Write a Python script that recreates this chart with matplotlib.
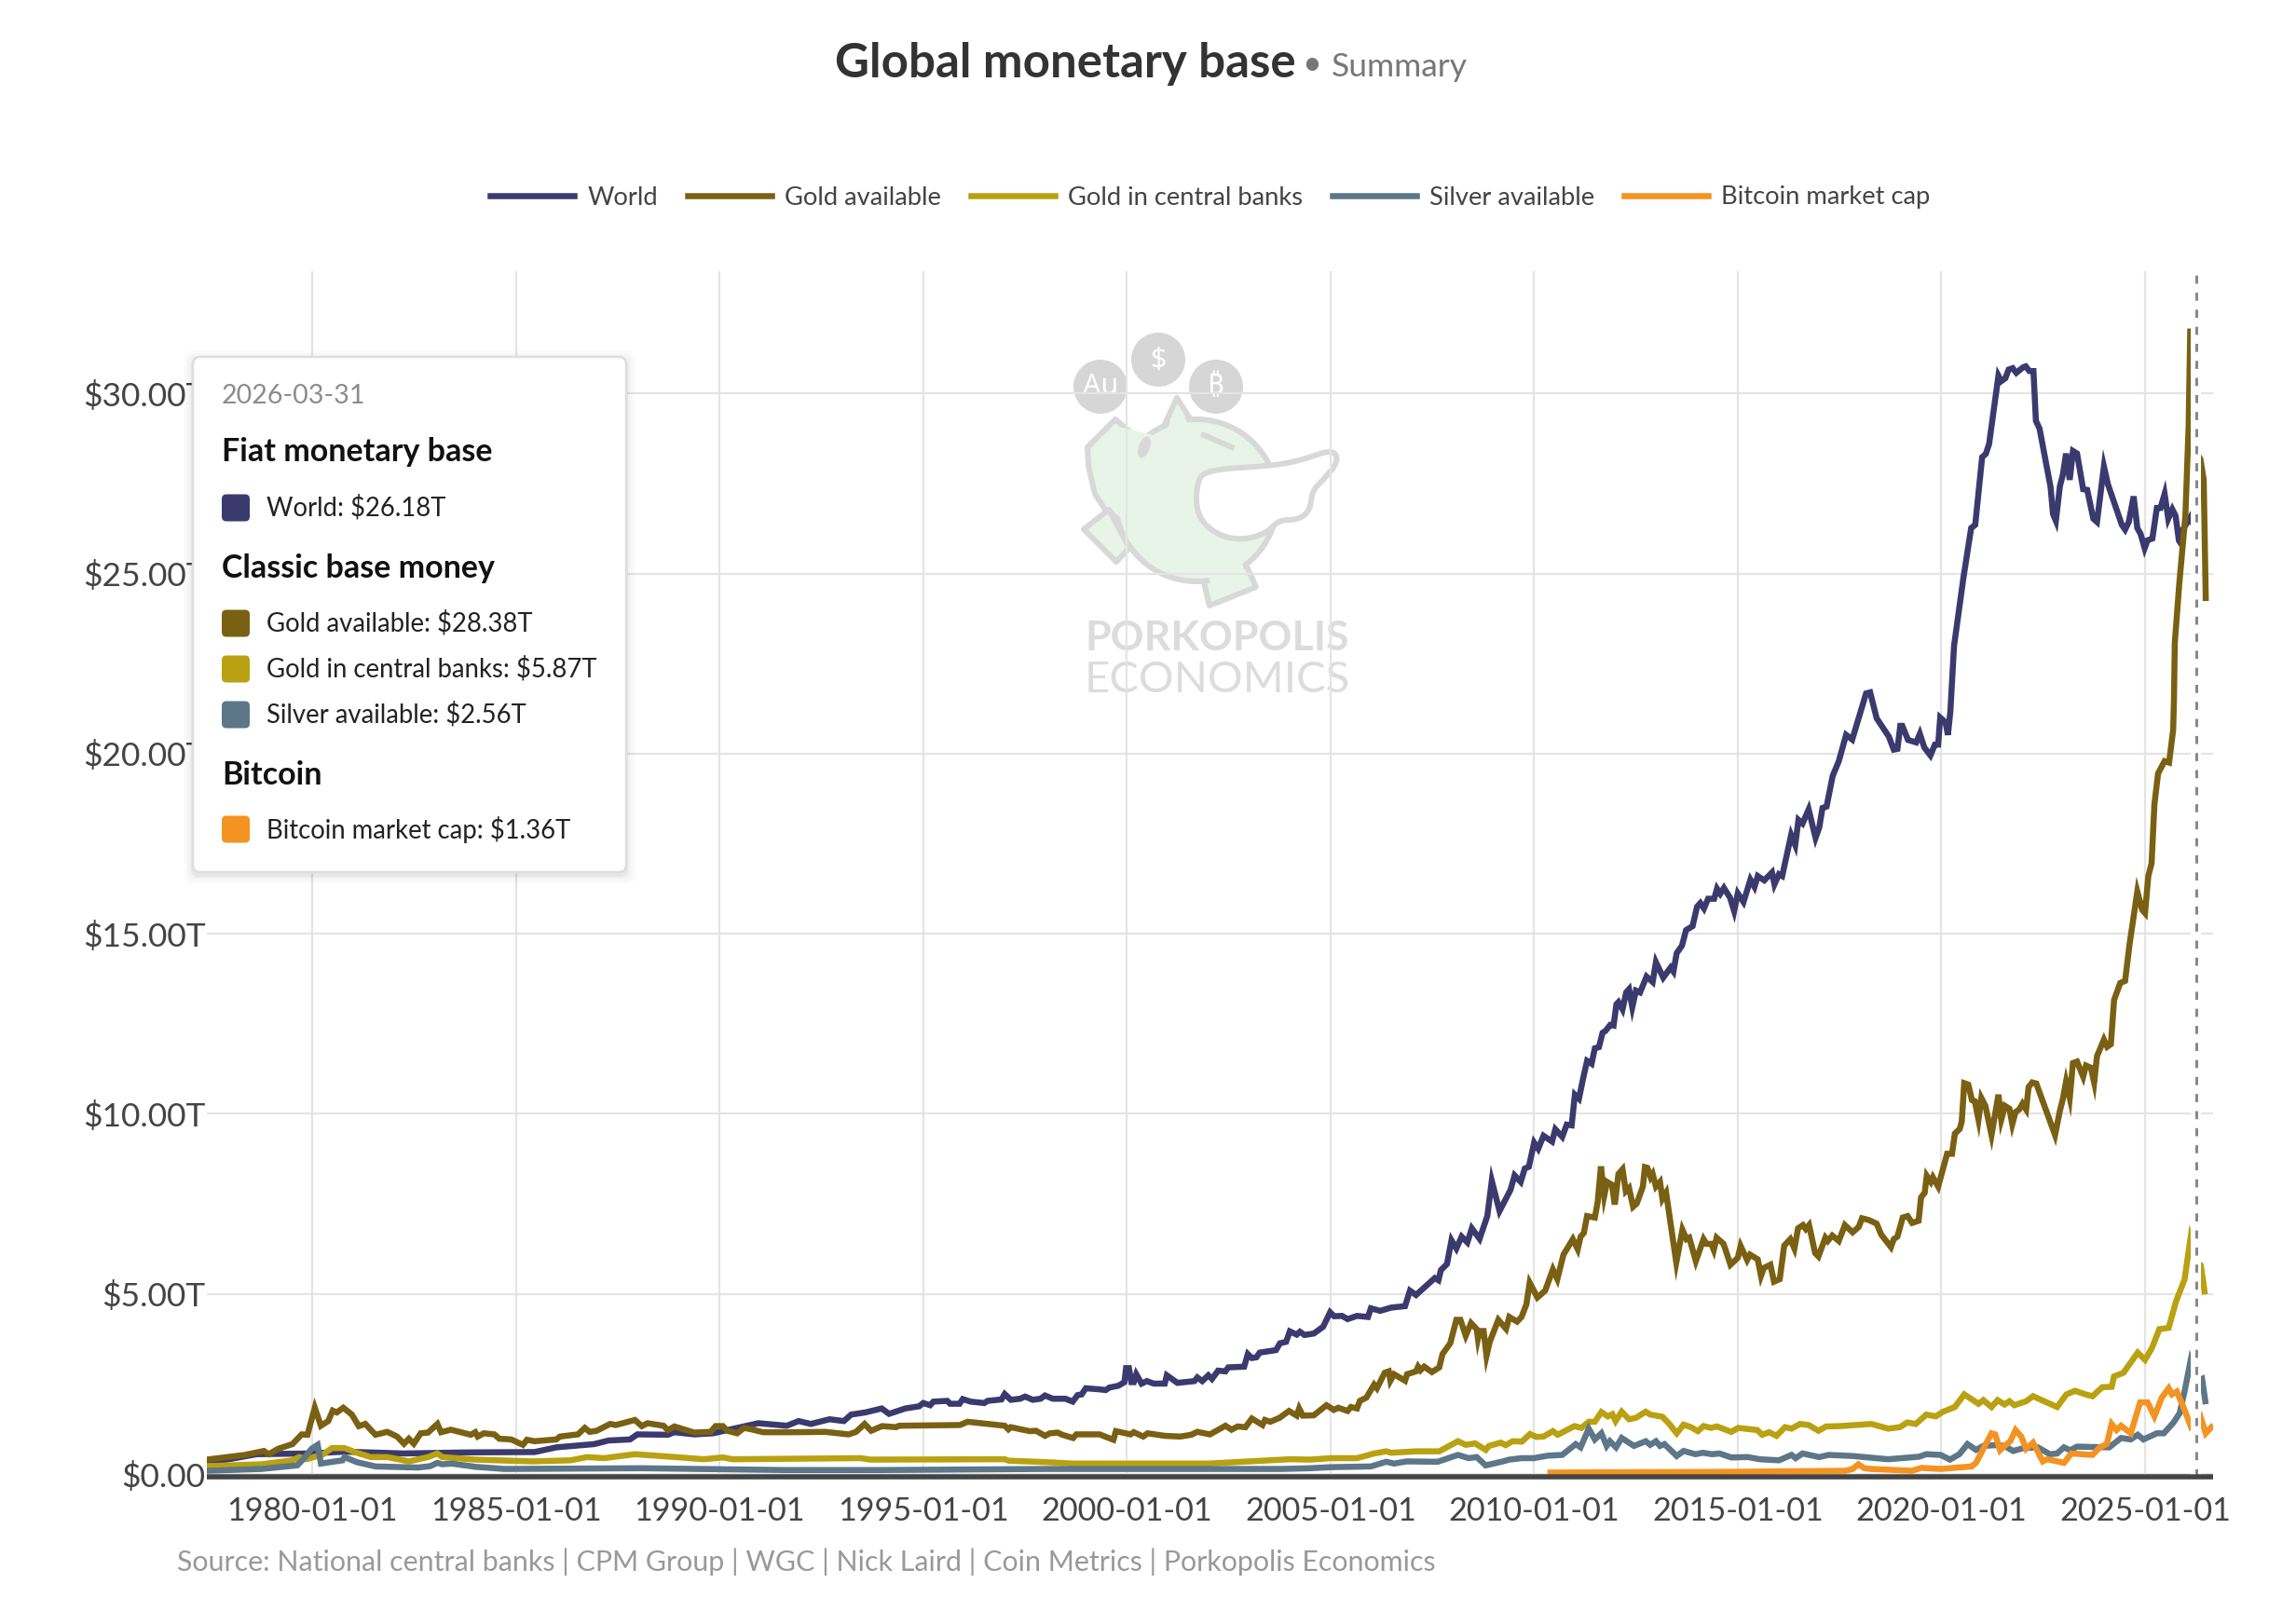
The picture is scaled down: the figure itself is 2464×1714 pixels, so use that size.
import matplotlib
matplotlib.use("Agg")
import matplotlib.pyplot as plt
from matplotlib.path import Path
from matplotlib.patches import Circle, Ellipse, FancyBboxPatch, PathPatch, Polygon

plt.rcParams['font.family'] = ['Lato', 'DejaVu Sans']

W, H = 2464, 1714

# values in trillions of dollars, x as decimal years
world_x = [1977.41, 1978.0, 1978.63, 1979.92, 1980.8, 1982.25, 1983.8, 1985.46, 1985.99, 1986.92, 1987.27, 1987.8, 1987.98, 1988.73, 1988.89, 1989.38, 1989.84, 1990.19, 1990.95, 1991.65, 1991.94, 1992.24, 1992.7, 1993.05, 1993.23, 1993.58, 1993.98, 1994.16,
           1994.56, 1994.9, 1995.0, 1995.17, 1995.25, 1995.59, 1995.66, 1995.89, 1995.97, 1996.16, 1996.5, 1996.58, 1996.92, 1997.0, 1997.15, 1997.38, 1997.5, 1997.69, 1997.88, 1997.99, 1998.18, 1998.49, 1998.67, 1998.79, 1998.89, 1998.99, 1999.33, 1999.48, 1999.57, 1999.79, 1999.94, 1999.98, 2000.05, 2000.11, 2000.17, 2000.23, 2000.36, 2000.49, 2000.66, 2000.93, 2000.98, 2001.24, 2001.66, 2001.73, 2001.85, 2002.0, 2002.09, 2002.24, 2002.42, 2002.49, 2002.88, 2002.97, 2003.07, 2003.18, 2003.26, 2003.66, 2003.76, 2003.91, 2004.0, 2004.17, 2004.25, 2004.36, 2004.59, 2004.82, 2004.99, 2005.09, 2005.28,
           2005.42, 2005.65, 2005.92, 2005.99, 2006.22, 2006.49, 2006.83, 2006.95, 2007.1, 2007.56, 2007.65, 2007.71, 2007.86, 2007.97, 2008.09, 2008.22, 2008.36, 2008.47, 2008.66, 2008.85, 2008.96,
           2009.15, 2009.42, 2009.52, 2009.67, 2009.77, 2009.87, 2010.0, 2010.1, 2010.23, 2010.44, 2010.52, 2010.69, 2010.8, 2010.92, 2011.0, 2011.1, 2011.2, 2011.3, 2011.41, 2011.49, 2011.59, 2011.68, 2011.75, 2011.87, 2011.95, 2012.02, 2012.07, 2012.17, 2012.26, 2012.33, 2012.41, 2012.5, 2012.6, 2012.76, 2012.91, 2012.99, 2013.17, 2013.35, 2013.42, 2013.5, 2013.63, 2013.73, 2013.89, 2014.0, 2014.08, 2014.17, 2014.27, 2014.42, 2014.49, 2014.57, 2014.66, 2014.81, 2014.91, 2015.0, 2015.14, 2015.31, 2015.41, 2015.49, 2015.65, 2015.84, 2015.9, 2016.01, 2016.09, 2016.31, 2016.41, 2016.49, 2016.59, 2016.74, 2016.91, 2017.0, 2017.08, 2017.18, 2017.33, 2017.48, 2017.66, 2017.81, 2018.15, 2018.25, 2018.41, 2018.71, 2018.83, 2018.92, 2018.99, 2019.04, 2019.18, 2019.38, 2019.47, 2019.58, 2019.73, 2019.84, 2019.92, 2019.97, 2020.1, 2020.16, 2020.22,
           2020.31, 2020.54, 2020.73, 2020.83, 2021.0, 2021.09, 2021.17, 2021.4, 2021.47, 2021.57, 2021.65, 2021.75, 2021.84, 2022.0, 2022.07, 2022.16, 2022.26, 2022.32, 2022.41, 2022.68, 2022.74, 2022.81, 2022.91, 2022.98, 2023.06, 2023.15, 2023.23, 2023.33, 2023.48, 2023.58, 2023.73, 2023.82, 2023.99, 2024.09, 2024.43, 2024.51, 2024.6, 2024.72, 2024.81, 2024.89, 2024.99, 2025.06, 2025.18, 2025.29, 2025.38, 2025.48, 2025.57, 2025.67, 2025.75, 2025.83, 2025.87, 2025.92, 2026.11, 2026.25]
world_y = [0.32, 0.42, 0.55, 0.57, 0.62, 0.57, 0.6, 0.61, 0.74, 0.83, 0.93, 0.96, 1.1, 1.09, 1.16, 1.1, 1.13, 1.22, 1.41, 1.34, 1.47, 1.39, 1.52, 1.47, 1.65, 1.71, 1.82, 1.67,
           1.82, 1.88, 1.97, 1.91, 2.01, 2.03, 1.95, 1.95, 2.08, 2.01, 1.97, 2.03, 2.07, 2.22, 2.06, 2.09, 2.15, 2.06, 2.09, 2.18, 2.09, 2.09, 2.01, 2.19, 2.21, 2.38, 2.35, 2.33, 2.4, 2.45, 2.55, 2.94, 2.94, 2.55, 2.55, 2.77, 2.51, 2.58, 2.51, 2.51, 2.74, 2.53, 2.58, 2.68, 2.58, 2.74, 2.64, 2.87, 2.85, 2.96, 2.98, 3.33, 3.22, 3.24, 3.37, 3.44, 3.63, 3.67, 3.96, 3.87, 3.95, 3.86, 3.9, 4.09, 4.49, 4.38, 4.39,
           4.3, 4.39, 4.36, 4.6, 4.53, 4.62, 4.66, 5.09, 4.97, 5.44, 5.38, 5.66, 5.83, 6.49, 6.26, 6.59, 6.43, 6.82, 6.53, 7.16, 8.14,
           7.3, 7.89, 8.29, 8.11, 8.48, 8.53, 9.2, 9.03, 9.39, 9.23, 9.57, 9.36, 9.7, 9.68, 10.53, 10.42, 10.97, 11.47, 11.39, 11.82, 11.85, 12.25, 12.3, 12.47, 12.45, 13.04, 13.1, 12.9, 13.37, 13.46, 12.96, 13.42, 13.37, 13.81, 13.66, 14.21, 13.78, 14.06, 13.95, 14.46, 14.67, 15.1, 15.21, 15.75, 15.85, 15.7, 15.97, 15.97, 16.25, 16.11, 16.27, 16.0, 15.63, 16.12, 15.88, 16.5, 16.3, 16.6, 16.48, 16.7, 16.37, 16.65, 16.6, 17.74, 17.46, 18.16, 18.06, 18.45, 17.66, 17.95, 18.49, 18.53, 19.38, 19.79, 20.52, 20.39, 21.67, 21.7, 20.98, 20.47, 20.11, 20.13, 20.77, 20.77, 20.38, 20.31, 20.55, 20.17, 19.95, 20.25, 20.25, 21.0, 20.87, 20.52, 21.18,
           22.99, 24.88, 26.26, 26.35, 28.23, 28.32, 28.59, 30.49, 30.34, 30.42, 30.66, 30.7, 30.57, 30.72, 30.75, 30.62, 30.62, 29.24, 29.02, 27.4, 26.65, 26.46, 27.43, 27.73, 28.33, 27.6, 28.4, 28.33, 27.34, 27.32, 26.52, 26.43, 27.97, 27.47, 26.35, 26.22, 26.43, 27.14, 26.26, 26.1, 25.7, 25.92, 25.97, 26.82, 26.82, 27.21, 26.52, 26.78, 26.6, 25.92, 25.85, 26.2, 26.56, 26.18]

gold_x = [1977.41, 1978.34, 1978.81, 1978.93, 1979.16, 1979.51, 1979.74, 1979.88, 1980.06, 1980.21, 1980.39, 1980.5, 1980.6, 1980.76, 1980.97, 1981.14, 1981.3, 1981.55, 1981.84, 1982.08, 1982.25, 1982.37, 1982.49, 1982.66, 1982.84, 1983.07, 1983.16, 1983.4, 1983.89, 1984.0, 1984.06, 1984.21, 1984.47, 1984.59, 1984.88, 1985.17, 1985.27, 1985.46, 1985.99, 1986.08, 1986.52, 1986.69, 1986.81, 1986.98, 1987.31, 1987.45, 1987.92, 1988.09, 1988.23, 1988.62, 1988.73, 1988.89, 1989.38, 1989.78, 1989.9, 1990.08, 1990.19, 1990.43, 1990.6, 1990.78, 1991.07, 1991.83, 1992.59, 1993.17, 1993.35, 1993.56, 1993.72, 1993.99,
          1994.33, 1994.41, 1995.9, 1996.09, 1997.0, 1997.09, 1997.15, 1997.61, 1997.77, 1997.99, 1998.11, 1998.3, 1998.41, 1998.68, 1998.76, 1999.33, 1999.67, 1999.73, 2000.09, 2000.17, 2000.4, 2000.51, 2000.93, 2001.31, 2001.58, 2001.73, 2002.04, 2002.42, 2002.57, 2002.72, 2002.91, 2003.07, 2003.33, 2003.39, 2003.52, 2003.75, 2003.98, 2004.17, 2004.23, 2004.32, 2004.59, 2004.9,
          2005.08, 2005.19, 2005.42, 2005.5, 2005.65, 2005.72, 2005.88, 2006.07, 2006.14, 2006.33, 2006.43, 2006.47, 2006.56, 2006.83, 2006.88, 2007.1, 2007.15, 2007.21, 2007.3, 2007.49, 2007.67, 2007.75, 2007.94, 2008.09, 2008.19, 2008.32, 2008.45, 2008.59, 2008.62, 2008.66, 2008.76, 2008.83, 2008.91,
          2009.12, 2009.31, 2009.39, 2009.58, 2009.69, 2009.81, 2009.89, 2010.08, 2010.27, 2010.46, 2010.57, 2010.72, 2010.95, 2011.07, 2011.14, 2011.22, 2011.3, 2011.49, 2011.56, 2011.64, 2011.72, 2011.79, 2011.91, 2011.98, 2012.07, 2012.17, 2012.25, 2012.33, 2012.43, 2012.52, 2012.67, 2012.72, 2012.78, 2012.86, 2012.91, 2012.99, 2013.09, 2013.15, 2013.24, 2013.49, 2013.64, 2013.74, 2013.81, 2013.97, 2014.16, 2014.23, 2014.35, 2014.41, 2014.48, 2014.65, 2014.82, 2015.0, 2015.07, 2015.23, 2015.3, 2015.49, 2015.57, 2015.64, 2015.8, 2015.89, 2016.03, 2016.14, 2016.29, 2016.39, 2016.48, 2016.6, 2016.67, 2016.75, 2016.9, 2016.98, 2017.15, 2017.21, 2017.32, 2017.48, 2017.63, 2017.82, 2017.97, 2018.05,
          2018.22, 2018.41, 2018.52, 2018.76, 2018.83, 2018.92, 2019.05, 2019.17, 2019.28, 2019.44, 2019.5, 2019.59, 2019.64, 2019.74, 2019.79, 2019.92, 2020.14, 2020.26, 2020.33, 2020.45, 2020.5, 2020.56, 2020.66, 2020.75, 2020.82, 2020.91, 2020.98, 2021.08, 2021.23, 2021.4, 2021.47, 2021.56, 2021.67, 2021.74, 2021.82, 2021.91, 2021.99, 2022.08, 2022.14, 2022.23, 2022.33, 2022.79, 2022.91, 2022.98, 2023.06, 2023.15, 2023.23, 2023.33, 2023.48, 2023.55, 2023.67, 2023.75, 2023.82, 2023.99, 2024.07, 2024.16, 2024.24, 2024.39, 2024.51, 2024.62, 2024.81, 2024.93, 2025.0, 2025.08, 2025.16, 2025.23, 2025.32, 2025.48, 2025.59, 2025.69, 2025.71, 2025.73, 2025.84, 2025.99, 2026.07, 2026.11, 2026.25, 2026.36, 2026.44, 2026.49]
gold_y = [0.40, 0.53, 0.64, 0.55, 0.70, 0.83, 1.10, 1.09, 1.84, 1.34, 1.47, 1.76, 1.71, 1.84, 1.65, 1.33, 1.39, 1.09, 1.17, 1.04, 0.84, 0.98, 0.84, 1.13, 1.15, 1.39, 1.16, 1.23, 1.09, 1.16, 1.04, 1.13, 1.10, 0.98, 0.96, 0.81, 0.95, 0.91, 0.96, 1.04, 1.10, 1.28, 1.17, 1.2, 1.39, 1.36, 1.5, 1.33, 1.41, 1.34, 1.22, 1.32, 1.15, 1.17, 1.33, 1.33, 1.2, 1.13, 1.28, 1.24, 1.16, 1.16, 1.17, 1.1, 1.17, 1.39, 1.2, 1.33,
          1.3, 1.34, 1.36, 1.45, 1.34, 1.24, 1.3, 1.19, 1.2, 1.06, 1.13, 1.15, 1.09, 1.0, 1.1, 1.1, 0.95, 1.19, 1.1, 1.16, 1.04, 1.13, 1.06, 1.04, 1.09, 1.17, 1.1, 1.34, 1.23, 1.32, 1.3, 1.54, 1.36, 1.5, 1.45, 1.56, 1.75, 1.62, 1.82, 1.62, 1.63, 1.91,
          1.78, 1.84, 1.75, 1.86, 1.82, 2.03, 2.12, 2.48, 2.38, 2.81, 2.85, 2.59, 2.77, 2.59, 2.77, 2.85, 2.98, 2.88, 2.98, 2.83, 2.96, 3.33, 3.63, 4.28, 4.28, 3.84, 4.19, 4.02, 3.76, 3.97, 3.97, 3.28, 3.67,
          4.28, 4.03, 4.36, 4.23, 4.36, 4.71, 5.31, 4.9, 5.09, 5.68, 5.41, 6.09, 6.52, 6.24, 6.59, 6.69, 7.16, 7.12, 7.55, 8.54, 7.72, 8.11, 8.03, 7.48, 8.33, 8.46, 7.85, 7.94, 7.42, 7.51, 7.98, 8.52, 8.5, 8.24, 8.33, 7.98, 8.11, 7.64, 7.81, 5.87, 6.78, 6.52, 6.56, 5.91, 6.52, 6.39, 6.39, 6.22, 6.56, 6.39, 5.81, 6.0, 6.33, 5.94, 6.09, 5.96, 5.5, 5.72, 5.81, 5.34, 5.41, 6.34, 6.52, 6.26, 6.82, 6.91, 6.8, 6.91, 6.13, 6.04, 6.56, 6.47, 6.62, 6.47, 6.91, 6.71, 6.86, 7.1,
          7.05, 6.95, 6.65, 6.3, 6.52, 6.59, 7.12, 7.16, 6.97, 7.03, 7.68, 7.81, 8.28, 8.11, 8.24, 7.98, 8.89, 8.89, 9.45, 9.58, 9.79, 10.85, 10.81, 10.38, 10.35, 9.84, 10.44, 10.22, 9.41, 10.53, 9.84, 10.22, 10.14, 9.71, 10.05, 10.12, 10.28, 10.12, 10.74, 10.87, 10.84, 9.41, 10.09, 10.4, 10.89, 10.44, 11.41, 11.45, 11.03, 11.34, 11.28, 10.87, 11.6, 12.06, 11.86, 11.93, 13.16, 13.63, 13.69, 14.71, 16.17, 15.66, 15.57, 16.6, 16.95, 18.59, 19.45, 19.79, 19.75, 20.66, 21.5, 23.07, 24.71, 26.6, 29.1, 31.8, 28.38, 28.17, 27.6, 24.32]

cb_gold_x = [1977.41, 1978.75, 1979.51, 1979.68, 1979.86, 1980.27, 1980.48, 1980.79, 1981.09, 1981.44, 1981.84, 1982.37, 1982.84, 1983.07, 1983.19, 1984.0, 1985.41, 1986.34, 1986.75, 1987.16, 1987.92, 1988.79, 1989.61, 1990.08, 1990.31, 1993.46, 1993.7, 1997.0, 1997.1, 1998.0, 1998.7, 2002.0, 2003.0, 2004.0, 2004.5, 2005.0, 2005.65, 2006.07, 2006.37, 2006.49, 2007.1, 2007.67, 2008.13, 2008.32, 2008.55, 2008.81, 2008.89,
             2009.18, 2009.3, 2009.47, 2009.7, 2009.9, 2010.05, 2010.23, 2010.46, 2010.58, 2010.99, 2011.16, 2011.34, 2011.49, 2011.65, 2011.81, 2011.92, 2012.0, 2012.15, 2012.33, 2012.5, 2012.74, 2012.85, 2013.15, 2013.32, 2013.5, 2013.67, 2013.85, 2014.02, 2014.16, 2014.34, 2014.49, 2014.84, 2015.01, 2015.48, 2015.6, 2015.77, 2015.95, 2016.16, 2016.32, 2016.53, 2016.74, 2016.98, 2017.17, 2017.52, 2018.28, 2018.69, 2018.98, 2019.16, 2019.37, 2019.63, 2019.86, 2020.04, 2020.33, 2020.56, 2020.74, 2020.91, 2021.03, 2021.23, 2021.38, 2021.55, 2021.67, 2021.79, 2022.08, 2022.25, 2022.84, 2023.07, 2023.28, 2023.54, 2023.71, 2023.95, 2024.18, 2024.24, 2024.47, 2024.82, 2025.0, 2025.17, 2025.35, 2025.58, 2025.76, 2025.97, 2026.11, 2026.25, 2026.37, 2026.46]
cb_gold_y = [0.22, 0.27, 0.38, 0.47, 0.41, 0.55, 0.72, 0.72, 0.59, 0.47, 0.47, 0.35, 0.47, 0.57, 0.47, 0.40, 0.35, 0.38, 0.47, 0.44, 0.55, 0.48, 0.41, 0.46, 0.41, 0.44, 0.40, 0.41, 0.37, 0.33, 0.29, 0.29, 0.35, 0.41, 0.40, 0.44, 0.44, 0.57, 0.63, 0.59, 0.63, 0.63, 0.91, 0.81, 0.85, 0.67, 0.78,
             0.87, 0.80, 0.91, 0.90, 1.11, 1.03, 1.04, 1.19, 1.09, 1.33, 1.28, 1.45, 1.45, 1.72, 1.60, 1.66, 1.47, 1.73, 1.52, 1.56, 1.73, 1.65, 1.59, 1.39, 1.13, 1.37, 1.30, 1.19, 1.33, 1.28, 1.32, 1.17, 1.28, 1.22, 1.09, 1.16, 1.06, 1.30, 1.26, 1.39, 1.36, 1.20, 1.32, 1.33, 1.39, 1.26, 1.30, 1.43, 1.39, 1.65, 1.60, 1.73, 1.86, 2.21, 2.08, 1.95, 2.05, 1.86, 2.05, 1.93, 2.02, 1.91, 2.02, 2.16, 1.86, 2.21, 2.31, 2.21, 2.16, 2.41, 2.42, 2.71, 2.81, 3.37, 3.17, 3.5, 4.02, 4.06, 4.79, 5.4, 6.5, 5.87, 5.79, 5.07]

silver_x = [1977.41, 1978.75, 1979.63, 1979.8, 1979.98, 1980.13, 1980.21, 1980.74, 1980.79, 1981.09, 1981.55, 1982.6, 1982.9, 1983.07, 1983.19, 1983.42, 1984.0, 1984.71, 1988.09, 1991.59, 1994.0, 1998.0, 2003.8, 2004.5, 2005.0, 2005.99, 2006.37, 2006.56, 2006.87, 2007.63, 2008.13, 2008.39, 2008.59, 2008.81, 2009.23, 2009.39, 2009.69, 2009.99,
            2010.34, 2010.69, 2011.02, 2011.14, 2011.34, 2011.49, 2011.65, 2011.78, 2011.86, 2012.01, 2012.15, 2012.45, 2012.74, 2012.85, 2012.99, 2013.09, 2013.2, 2013.5, 2013.67, 2013.96, 2014.14, 2014.37, 2014.55, 2014.84, 2015.25, 2015.54, 2016.01, 2016.32, 2016.42, 2016.59, 2017.0, 2017.23, 2017.82, 2018.69, 2019.45, 2019.63, 2019.98, 2020.21, 2020.44, 2020.64, 2020.85, 2021.03, 2021.32, 2021.55, 2021.76, 2022.02, 2022.37, 2022.66, 2022.84, 2023.01, 2023.16, 2023.33, 2024.12, 2024.41, 2024.65, 2024.82, 2024.96, 2025.29, 2025.46, 2025.7, 2025.85, 2025.97, 2026.11, 2026.25, 2026.4, 2026.48]
silver_y = [0.09, 0.14, 0.24, 0.44, 0.70, 0.81, 0.29, 0.38, 0.47, 0.33, 0.21, 0.18, 0.22, 0.31, 0.27, 0.29, 0.20, 0.14, 0.16, 0.11, 0.11, 0.14, 0.14, 0.16, 0.19, 0.21, 0.34, 0.29, 0.35, 0.34, 0.53, 0.44, 0.47, 0.24, 0.35, 0.40, 0.44, 0.44,
            0.51, 0.53, 0.83, 0.74, 1.26, 0.96, 1.13, 0.78, 0.91, 0.74, 1.0, 0.78, 0.91, 0.81, 0.91, 0.78, 0.83, 0.50, 0.64, 0.55, 0.59, 0.55, 0.57, 0.46, 0.47, 0.41, 0.38, 0.53, 0.44, 0.57, 0.47, 0.53, 0.50, 0.41, 0.48, 0.55, 0.53, 0.40, 0.55, 0.83, 0.67, 0.78, 0.80, 0.78, 0.64, 0.72, 0.74, 0.55, 0.57, 0.74, 0.66, 0.76, 0.74, 1.0, 0.96, 1.09, 0.96, 1.13, 1.13, 1.43, 1.69, 2.29, 3.1, 2.56, 2.64, 2.02]

btc_x = [2010.4, 2012.45, 2014.78, 2017.64, 2017.82, 2017.96, 2018.11, 2018.28, 2019.28, 2019.51, 2019.98, 2020.74, 2020.85, 2021.09, 2021.23, 2021.32, 2021.44, 2021.55, 2021.69, 2021.82, 2021.96, 2022.08, 2022.25, 2022.49, 2022.6, 2023.01, 2023.19, 2023.71, 2023.89, 2024.06, 2024.18, 2024.3, 2024.41, 2024.65, 2024.88, 2025.06, 2025.23, 2025.41, 2025.58, 2025.66, 2025.78, 2025.97, 2026.13, 2026.25, 2026.37, 2026.49, 2026.63]
btc_y = [0.04, 0.05, 0.06, 0.09, 0.14, 0.27, 0.16, 0.14, 0.09, 0.17, 0.14, 0.21, 0.31, 0.83, 1.13, 1.1, 0.66, 0.78, 0.91, 1.22, 1.04, 0.7, 0.87, 0.35, 0.41, 0.31, 0.57, 0.53, 0.74, 0.83, 1.39, 1.22, 1.34, 1.13, 1.99, 1.99, 1.6, 2.12, 2.38, 2.21, 2.29, 1.78, 1.3, 1.36, 1.56, 1.13, 1.3]

y_ticks = [0, 5, 10, 15, 20, 25, 30]
y_tick_labels = ['$0.00', '$5.00T', '$10.00T', '$15.00T', '$20.00T', '$25.00T', '$30.00T']
x_ticks = [1980, 1985, 1990, 1995, 2000, 2005, 2010, 2015, 2020, 2025]
x_tick_labels = ['1980-01-01', '1985-01-01', '1990-01-01', '1995-01-01', '2000-01-01', '2005-01-01', '2010-01-01', '2015-01-01', '2020-01-01', '2025-01-01']
hover_date = 2026.25

series_names = ['World', 'Gold available', 'Gold in central banks', 'Silver available', 'Bitcoin market cap']
series_colors = ['#3b3a6e', '#7a6012', '#b9a111', '#5d7688', '#f39322']

tooltip_date = '2026-03-31'
tooltip_rows = [('h', 'Fiat monetary base', 485), ('r', 'World: $26.18T', 545, 0),
                ('h', 'Classic base money', 610), ('r', 'Gold available: $28.38T', 669, 1),
                ('r', 'Gold in central banks: $5.87T', 718, 2), ('r', 'Silver available: $2.56T', 767, 3),
                ('h', 'Bitcoin', 832), ('r', 'Bitcoin market cap: $1.36T', 890, 4)]


def px(v):
    # pixels to points at dpi 100
    return v * 0.72


def smooth_patch(pts, **kw):
    # closed quadratic curve through the midpoints of the outline
    n = len(pts)
    mids = [((pts[i][0] + pts[(i + 1) % n][0]) / 2, (pts[i][1] + pts[(i + 1) % n][1]) / 2) for i in range(n)]
    verts = [mids[-1]]
    codes = [Path.MOVETO]
    for i in range(n):
        verts += [pts[i], mids[i]]
        codes += [Path.CURVE3, Path.CURVE3]
    return PathPatch(Path(verts, codes), **kw)


def draw_watermark(bg):
    edge = '#d8d8d8'
    fill = '#e8f4e8'
    for (cx, cy), label in zip([(1181, 415), (1243, 386), (1305, 415)], ['Au', '$', '₿']):
        bg.add_patch(Circle((cx, cy), 29, fc='#d6d6d6', ec='none'))
        bg.text(cx, cy, label, color='white', ha='center', va='center', fontsize=22, fontweight='bold',
                family=['Noto Sans', 'DejaVu Sans'])

    lw = px(6)
    shapes = [
        [(1197, 450), (1167, 480), (1168, 500), (1175, 530), (1190, 553), (1213, 527), (1217, 467)],
        [(1190, 547), (1163, 568), (1198, 603), (1212, 588)],
        [(1290, 617), (1338, 608), (1348, 630), (1298, 650)],
        [(1247, 462), (1263, 427), (1282, 457), (1282, 475), (1267, 472)],
    ]
    for pts in shapes:
        bg.add_patch(Polygon(pts, closed=True, fc=fill, ec=edge, lw=lw, joinstyle='round'))
    bg.add_patch(Circle((1284, 537), 87, fc=fill, ec=edge, lw=lw))
    # snout, ear and feet run into the body with no outline between them
    bg.add_patch(Polygon([(1200, 458), (1174, 482), (1180, 528), (1196, 550), (1240, 590), (1250, 470)], closed=True, fc=fill, ec='none'))
    bg.add_patch(Polygon([(1252, 462), (1263, 434), (1277, 458), (1278, 472)], closed=True, fc=fill, ec='none'))
    bg.add_patch(Polygon([(1296, 612), (1333, 605), (1340, 625), (1302, 640)], closed=True, fc=fill, ec='none'))
    bg.add_patch(Ellipse((1228, 480), 12, 24, angle=20, fc=edge, ec='none'))
    bg.plot([1292, 1322], [467, 480], color=edge, lw=lw)
    wing = [(1284, 520), (1293, 504), (1367, 500), (1400, 493), (1430, 482), (1437, 495), (1420, 515), (1408, 527), (1406, 548), (1393, 558), (1372, 558), (1360, 572), (1333, 580), (1305, 574), (1284, 553)]
    bg.add_patch(smooth_patch(wing, fc='white', ec=edge, lw=lw, joinstyle='round'))
    bg.text(1306, 685, 'PORKOPOLIS', color='#dcdcdc', ha='center', va='center', fontsize=32, fontweight='bold')
    bg.text(1306, 730, 'ECONOMICS', color='#dcdcdc', ha='center', va='center', fontsize=34)


def draw_tooltip(top):
    x0, y0, x1, y1 = 207, 383, 672, 936
    for grow, alpha in [(10, 0.012), (7, 0.018), (4, 0.025), (2, 0.04)]:
        top.add_patch(FancyBboxPatch((x0 - grow, y0 - grow + 3), x1 - x0 + 2 * grow, y1 - y0 + 2 * grow,
                                     boxstyle='round,pad=0,rounding_size=8', fc='black', ec='none', alpha=alpha))
    top.add_patch(FancyBboxPatch((x0, y0), x1 - x0, y1 - y0, boxstyle='round,pad=0,rounding_size=8',
                                 fc='white', ec='#dedede', lw=px(2.5)))
    top.text(238, 424.5, tooltip_date, color='#8c8c8c', fontsize=20.6, va='center')
    for row in tooltip_rows:
        if row[0] == 'h':
            top.text(238, row[2], row[1], color='#111111', fontsize=24.5, fontweight='bold', va='center')
        else:
            top.add_patch(FancyBboxPatch((238, row[2] - 14.5), 30, 29, boxstyle='round,pad=0,rounding_size=5',
                                         fc=series_colors[row[3]], ec='none'))
            top.text(286, row[2], row[1], color='#222222', fontsize=19.8, va='center')


fig = plt.figure(figsize=(W / 100, H / 100), dpi=100, facecolor='white')

left, right, bottom, top_y = 222, 2375, 1585, 291
ax = fig.add_axes([left / W, 1 - bottom / H, (right - left) / W, (bottom - top_y) / H], zorder=1)
ax.patch.set_alpha(0)

bg = fig.add_axes([0, 0, 1, 1], zorder=0)
bg.set_xlim(0, W)
bg.set_ylim(H, 0)
bg.axis('off')
draw_watermark(bg)

ax.set_xlim(1977.41, 2026.67)
ax.set_ylim(-3 / 38.66, (1582 - top_y) / 38.66)
ax.set_xticks(x_ticks)
ax.set_xticklabels(x_tick_labels)
ax.set_yticks(y_ticks)
ax.set_yticklabels(y_tick_labels)
ax.tick_params(axis='x', length=0, pad=px(21), labelsize=24.7, labelcolor='#444444')
ax.tick_params(axis='y', length=0, pad=px(1.5), labelsize=25.5, labelcolor='#444444')
ax.grid(True, color='#e4e4e4', linewidth=px(2.2))
ax.set_axisbelow(True)
for side in ['top', 'left', 'right']:
    ax.spines[side].set_visible(False)
ax.spines['bottom'].set_color('#444444')
ax.spines['bottom'].set_linewidth(px(5.5))
ax.spines['bottom'].set_capstyle('butt')
ax.spines['bottom'].set_zorder(6)

line_w = px(6.5)
ax.plot(world_x, world_y, color=series_colors[0], lw=line_w, label=series_names[0], zorder=2, solid_joinstyle='miter')
ax.plot(gold_x, gold_y, color=series_colors[1], lw=line_w, label=series_names[1], zorder=2.1, solid_joinstyle='miter')
ax.plot(cb_gold_x, cb_gold_y, color=series_colors[2], lw=line_w, label=series_names[2], zorder=2.2, solid_joinstyle='miter')
ax.plot(silver_x, silver_y, color=series_colors[3], lw=line_w, label=series_names[3], zorder=2.3, solid_joinstyle='miter')
ax.plot(btc_x, btc_y, color=series_colors[4], lw=line_w, label=series_names[4], zorder=2.4, solid_joinstyle='miter')

# the hover line wipes a narrow band out of everything under it
ax.axvspan(hover_date - 0.135, hover_date + 0.115, color='white', lw=0, zorder=4)
ax.axvline(hover_date, color='#888888', lw=px(3), dashes=(2.9, 3.2), zorder=5)

ax.legend(loc='center', bbox_to_anchor=(1299 / W, 1 - 212 / H), bbox_transform=fig.transFigure, ncol=5, frameon=False,
          fontsize=19.7, handlelength=3.28, handletextpad=0.53, columnspacing=1.16, labelcolor='#444444')

fig.text(896 / W, 1 - 68 / H, 'Global monetary base', fontsize=36.7, fontweight='bold', color='#333333', va='center')
fig.text(1397 / W, 1 - 70 / H, '•', fontsize=26, color='#777777', va='center')
fig.text(1429 / W, 1 - 72 / H, 'Summary', fontsize=25.5, color='#777777', va='center')
fig.text(190 / W, 1 - 1676 / H, 'Source: National central banks | CPM Group | WGC | Nick Laird | Coin Metrics | Porkopolis Economics',
         fontsize=21.9, color='#999999', va='center')

top = fig.add_axes([0, 0, 1, 1], zorder=2)
top.set_xlim(0, W)
top.set_ylim(H, 0)
top.axis('off')
draw_tooltip(top)

fig.savefig('out.png', dpi=100)
